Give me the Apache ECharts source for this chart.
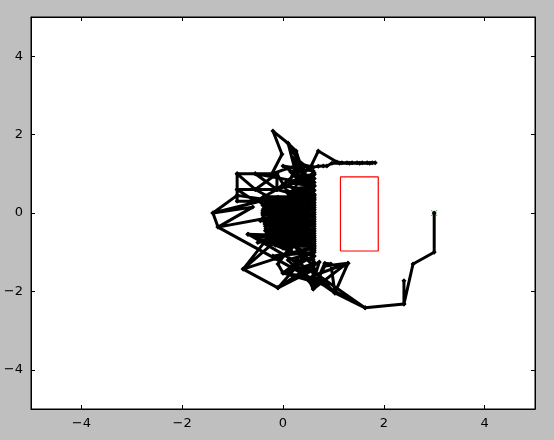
<!DOCTYPE html>
<html>
<head>
<meta charset="utf-8">
<script src="https://cdn.jsdelivr.net/npm/echarts@6/dist/echarts.min.js"></script>
<style>
html, body { margin: 0; padding: 0; background: #bfbfbf; }
#main { width: 554px; height: 440px; }
</style>
</head>
<body>
<div id="main"></div>
<script>
var myChart = echarts.init(document.getElementById('main'));

// tick labels
var ticks = [-4, -2, 0, 2, 4];

// robot path (x, y)
var path = [
    [3.0, 0.0], [3.0, -1.0], [2.58, -1.3], [2.4, -2.32], [2.4, -1.73], [2.4, -2.32],
    [1.63, -2.42], [1.03, -2.04], [0.6, -1.6], [1.29, -1.28], [1.22, -1.33], [0.6, -1.94],
    [0.83, -1.28], [0.95, -1.3], [1.03, -2.04], [0.6, -1.45], [-0.1, -1.91], [0.6, -1.3],
    [0.0, -1.53], [0.6, -1.75], [0.72, -1.25], [-0.1, -1.91], [-0.79, -1.43], [-0.25, -0.55],
    [0.6, -1.1], [0.0, -1.53], [0.6, -0.95], [0.6, -1.86], [0.2, -1.2], [0.6, -1.2],
    [-0.4, -0.7], [0.6, -0.4], [-0.2, -0.8], [0.6, -0.8], [-0.7, -0.54], [0.6, -0.6],
    [-0.3, -0.3], [0.6, -0.2], [-0.4, 0.2], [0.6, 0.0], [-0.2, -0.5], [0.6, 0.3],
    [-0.1, 0.4], [0.6, -0.7], [0.1, 0.5], [0.6, 0.6], [-0.4, 0.0], [0.6, -0.3],
    [0.0, -0.9], [0.6, 0.1], [-0.3, 0.3], [0.6, 0.45], [0.2, -0.75], [0.6, 0.8],
    [0.0, 0.2], [0.6, -0.5], [-0.5, -0.75], [0.4, -0.3], [0.6, -1.0], [-0.1, -0.2],
    [0.6, 0.2], [0.3, -0.6], [-0.4, 0.35], [0.6, -0.1], [0.1, -0.85], [0.6, 0.5],
    [0.2, 0.1], [-0.35, -0.45], [0.6, -0.9], [0.45, 0.3], [-0.2, 0.25], [0.6, 0.7],
    [0.0, -0.4], [0.6, 0.35], [-0.12, 0.6], [0.6, 0.95], [0.3, 0.1], [-0.45, -0.2],
    [0.6, -0.15], [0.15, -0.95], [-0.1, -0.65], [0.6, -0.25], [0.25, 0.35], [0.62, 0.4],
    [-0.38, 0.42], [0.62, 0.36], [-0.36, 0.3], [0.62, 0.26], [-0.38, 0.18], [0.62, 0.14],
    [-0.4, 0.06], [0.62, 0.02], [-0.4, -0.05], [0.62, -0.1], [-0.38, -0.16], [0.62, -0.22],
    [-0.36, -0.28], [0.62, -0.34], [-0.34, -0.4], [0.62, -0.46], [-0.32, -0.52], [0.62, -0.58],
    [-0.3, -0.62], [0.62, -0.68], [-0.25, -0.72], [0.62, -0.78], [-0.15, -0.82], [0.62, -0.86],
    [0.62, -0.95], [0.58, -1.02], [0.62, -1.1], [0.58, -1.18], [0.62, -1.26], [0.58, -1.34],
    [0.62, -1.42], [0.58, -1.5], [0.62, -1.58], [0.58, -1.66], [0.62, -1.74], [0.6, -1.86],
    [0.1, -1.2], [0.62, -1.0], [-0.2, -1.1], [0.62, -0.9],
    [-0.38, 0.39], [0.62, 0.33], [-0.37, 0.22], [0.62, 0.2], [-0.39, 0.1], [0.62, 0.08],
    [-0.4, 0.0], [0.62, -0.04], [-0.39, -0.11], [0.62, -0.16], [-0.37, -0.22], [0.62, -0.28],
    [-0.35, -0.34], [0.62, -0.4], [-0.33, -0.46], [0.62, -0.52], [-0.31, -0.57], [0.62, -0.63],
    [-0.28, -0.67], [0.62, -0.73], [-0.2, -0.77], [0.62, -0.82],
    [0.05, -0.2], [0.62, 0.48], [0.1, 0.55], [0.62, 0.58], [0.2, 0.62], [0.62, 0.68],
    [0.25, 0.75], [0.62, 0.78], [0.3, 0.85], [0.62, 0.88], [0.35, 0.95], [0.62, 0.98],
    [0.6, 1.07], [0.0, 1.2], [0.62, 0.7], [0.2, 1.4], [0.62, 0.45], [0.15, 1.05],
    [0.45, 1.2], [-0.12, 0.6], [0.62, 1.02], [0.3, 1.35], [0.1, 0.7],
    [0.54, 1.15], [0.7, 1.58], [1.07, 1.3], [1.17, 1.28], [1.27, 1.28], [1.37, 1.28],
    [1.47, 1.28], [1.57, 1.28], [1.67, 1.28], [1.77, 1.28], [1.83, 1.28], [1.72, 1.27],
    [1.52, 1.27], [1.32, 1.27], [1.12, 1.27], [0.97, 1.27], [0.87, 1.2], [0.8, 1.2],
    [0.7, 1.19], [0.6, 1.17], [0.34, 1.25], [0.1, 1.78], [-0.2, 2.09], [-0.02, 1.5],
    [-0.22, 1.0], [0.34, 1.25], [0.2, 0.3], [-0.12, 1.0], [-0.55, 1.0], [-0.91, 1.0],
    [-0.55, 0.6], [-0.12, 1.0], [-0.12, 0.6], [-0.55, 0.3], [-0.91, 0.3], [-0.91, 0.6],
    [-0.55, 0.3], [-0.12, 0.3], [-0.55, 0.6], [-0.91, 1.0], [-0.91, 0.6], [-0.12, 0.6],
    [-0.55, 1.0], [0.3, 0.8], [0.1, 1.78], [0.26, 1.58], [0.5, 0.6], [-0.12, 0.3],
    [-0.91, 0.45], [-1.39, 0.0], [-0.46, 0.3], [-0.2, -0.1], [-1.29, -0.36], [-1.39, 0.0],
    [-0.6, 0.15], [-1.29, -0.36], [1.63, -2.42], [0.6, -1.5], [-0.69, -0.54], [-0.3, -0.75],
    [0.6, -0.85], [-0.79, -1.43], [0.0, -0.55], [0.6, -1.35], [-0.1, -1.91], [0.35, -1.25],
    [0.6, -1.94], [0.83, -1.35], [1.29, -1.28], [1.03, -2.04], [0.6, -1.65], [0.0, -1.53],
    [-0.1, -1.3], [0.6, -0.05], [0.3, -0.9], [-0.25, 0.0], [0.6, 0.55], [0.0, 0.7],
    [0.6, 0.85], [0.45, 0.6], [0.6, 0.25]
];

// start marker
var start = [[3.0, 0.0]];

// red box
var boxX = [1.14, 1.89];
var boxY = [-0.97, 0.92];

var boxData = [
    [boxX[0], boxY[0]], [boxX[1], boxY[0]], [boxX[1], boxY[1]],
    [boxX[0], boxY[1]], [boxX[0], boxY[0]]
];

function ax(position, showLabel) {
    return {
        type: 'value',
        position: position,
        min: -5,
        max: 5,
        axisLine: { show: true, onZero: false, lineStyle: { color: '#000', width: 1 } },
        axisTick: {
            show: true, inside: true, length: 4,
            customValues: ticks,
            lineStyle: { color: '#000' }
        },
        splitLine: { show: false },
        axisLabel: {
            show: showLabel,
            customValues: ticks,
            margin: 8,
            color: '#000',
            fontSize: 13,
            fontFamily: 'DejaVu Sans',
            formatter: function (v) {
                return String(v).replace('-', '\u2212');
            }
        }
    };
}

option = {
    backgroundColor: '#bfbfbf',
    animation: false,
    grid: {
        left: 31, right: 19, top: 17, bottom: 31,
        show: true, backgroundColor: '#fff', borderColor: '#000', borderWidth: 1
    },
    xAxis: [ax('bottom', true), ax('top', false)],
    yAxis: [ax('left', true), ax('right', false)],
    series: [
        {
            type: 'line',
            data: path,
            symbol: 'diamond',
            symbolSize: 5,
            showAllSymbol: true,
            itemStyle: { color: '#000' },
            lineStyle: { color: '#000', width: 3 }
        },
        {
            type: 'scatter',
            data: start,
            symbol: 'path://M0,0L10,10M10,0L0,10',
            symbolSize: 6,
            itemStyle: { color: 'none', borderColor: '#3a8a3a', borderWidth: 1 },
            z: 1
        },
        {
            type: 'line',
            data: boxData,
            symbol: 'none',
            lineStyle: { color: '#ff0000', width: 1.2 }
        }
    ]
};

myChart.setOption(option);
</script>
</body>
</html>
